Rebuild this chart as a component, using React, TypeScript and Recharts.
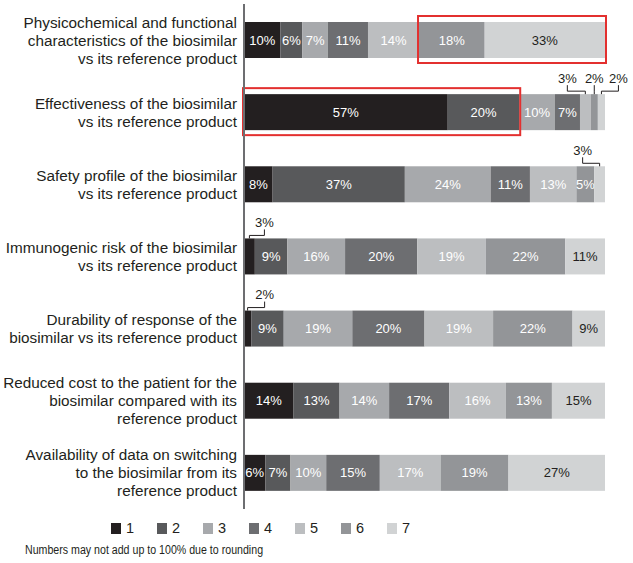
import { BarChart, Bar, XAxis, YAxis } from 'recharts';

// rating categories (rows, top to bottom)
const categories = [
  ['Physicochemical and functional', 'characteristics of the biosimilar', 'vs its reference product'],
  ['Effectiveness of the biosimilar', 'vs its reference product'],
  ['Safety profile of the biosimilar', 'vs its reference product'],
  ['Immunogenic risk of the biosimilar', 'vs its reference product'],
  ['Durability of response of the', 'biosimilar vs its reference product'],
  ['Reduced cost to the patient for the', 'biosimilar compared with its', 'reference product'],
  ['Availability of data on switching', 'to the biosimilar from its', 'reference product'],
];

const seriesNames = ['1', '2', '3', '4', '5', '6', '7'];

// percentages per rating, one value per row
const r1 = [10, 57, 8, 3, 2, 14, 6];
const r2 = [6, 20, 37, 9, 9, 13, 7];
const r3 = [7, 10, 24, 16, 19, 14, 10];
const r4 = [11, 7, 11, 20, 20, 17, 15];
const r5 = [14, 3, 13, 19, 19, 16, 17];
const r6 = [18, 2, 5, 22, 22, 13, 19];
const r7 = [33, 2, 3, 11, 9, 15, 27];

const seriesValues = [r1, r2, r3, r4, r5, r6, r7];
const keys = seriesNames.map((n) => `r${n}`);

const colors = ['#231f20', '#58595b', '#a7a9ac', '#6d6e71', '#bcbec0', '#939598', '#d1d3d4'];

// red highlight boxes: row index, first and last series index
const highlights = [
  { row: 0, from: 5, to: 6 },
  { row: 1, from: 0, to: 1 },
];

// horizontal shift of callout labels for thin segments (row-series)
const calloutDx: Record<string, number> = {
  '1-4': -18,
  '1-5': 0,
  '1-6': 17,
  '2-6': -17,
  '3-0': 15,
  '4-0': 17,
};

const data = categories.map((c, i) => {
  const row: Record<string, any> = { name: c.join(' '), lines: c };
  keys.forEach((k, s) => {
    row[k] = seriesValues[s][i];
  });
  return row;
});

const TEXT = '#231f20';
const FONT = '"Liberation Sans", Arial, sans-serif';

const CategoryTick = (props: any) => {
  const { x, y, payload } = props;
  const lines: string[] = categories[payload.index] ?? [payload.value];
  const start = y - ((lines.length - 1) * 18) / 2;
  return (
    <text x={x} y={start} textAnchor="end" fontSize={15.3} fill={TEXT} fontFamily={FONT}>
      {lines.map((l, i) => (
        <tspan key={i} x={x} dy={i === 0 ? 0 : 18} dominantBaseline="central">
          {l}
        </tspan>
      ))}
    </text>
  );
};

const makeShape = (s: number) => (props: any) => {
  const { x, y, width, height, payload, index } = props;
  const value = payload[keys[s]];
  const cx = x + width / 2;
  let label = null;
  if (value >= 4) {
    label = (
      <text
        x={cx}
        y={y + height / 2}
        textAnchor="middle"
        dominantBaseline="central"
        fontSize={13}
        fontFamily={FONT}
        fill={s === 6 ? TEXT : '#ffffff'}
      >
        {value}%
      </text>
    );
  } else {
    const tx = cx + (calloutDx[`${index}-${s}`] ?? 0);
    label = (
      <g>
        <path
          d={`M${cx},${y} V${y - 3} H${tx} V${y - 9}`}
          fill="none"
          stroke={TEXT}
          strokeWidth={1}
        />
        <text x={tx} y={y - 16} textAnchor="middle" dominantBaseline="central" fontSize={13} fontFamily={FONT} fill={TEXT}>
          {value}%
        </text>
      </g>
    );
  }

  let box = null;
  const hl = highlights.find((h) => h.row === index);
  if (s === 6 && hl) {
    const vals = keys.map((k) => payload[k] as number);
    const total = vals.reduce((a, b) => a + b, 0);
    const full = (width * total) / value;
    const left = x + width - full;
    const before = vals.slice(0, hl.from).reduce((a, b) => a + b, 0);
    const through = vals.slice(0, hl.to + 1).reduce((a, b) => a + b, 0);
    const bx = left + (before / total) * full - 1;
    const bw = ((through - before) / total) * full + 2;
    box = <rect x={bx} y={y - 6} width={bw} height={height + 11} fill="none" stroke="#e3302f" strokeWidth={2} />;
  }

  return (
    <g>
      <rect x={x} y={y} width={width} height={height} fill={colors[s]} />
      {label}
      {box}
    </g>
  );
};

export default function App() {
  return (
    <div style={{ position: 'absolute', left: 0, top: 0, width: 633, height: 563, background: '#fff', fontFamily: FONT }}>
      <BarChart
        width={633}
        height={515}
        data={data}
        layout="vertical"
        stackOffset="expand"
        barSize={36}
        margin={{ top: 4, right: 28, bottom: 6, left: 0 }}
      >
        <XAxis type="number" domain={[0, 1]} hide />
        <YAxis
          type="category"
          dataKey="name"
          width={244}
          axisLine={{ stroke: '#6d6e71', strokeWidth: 2 }}
          tickLine={false}
          tickSize={0}
          tickMargin={7}
          interval={0}
          tick={<CategoryTick />}
        />
        {keys.map((k, s) => (
          <Bar
            key={k}
            dataKey={k}
            name={seriesNames[s]}
            stackId="a"
            fill={colors[s]}
            shape={makeShape(s)}
            isAnimationActive={false}
          />
        ))}
      </BarChart>
      <div style={{ position: 'absolute', left: 111, top: 520, display: 'flex', fontSize: 14.5, color: TEXT }}>
        {seriesNames.map((n, s) => (
          <div key={n} style={{ width: 46, display: 'flex', alignItems: 'center' }}>
            <span style={{ display: 'inline-block', width: 10, height: 11, background: colors[s], marginRight: 5 }} />
            <span>{n}</span>
          </div>
        ))}
      </div>
      <div
        style={{
          position: 'absolute',
          left: 25,
          top: 543,
          fontSize: 12.5,
          color: TEXT,
          whiteSpace: 'nowrap',
          transform: 'scaleX(0.85)',
          transformOrigin: 'left center',
        }}
      >
        Numbers may not add up to 100% due to rounding
      </div>
    </div>
  );
}
